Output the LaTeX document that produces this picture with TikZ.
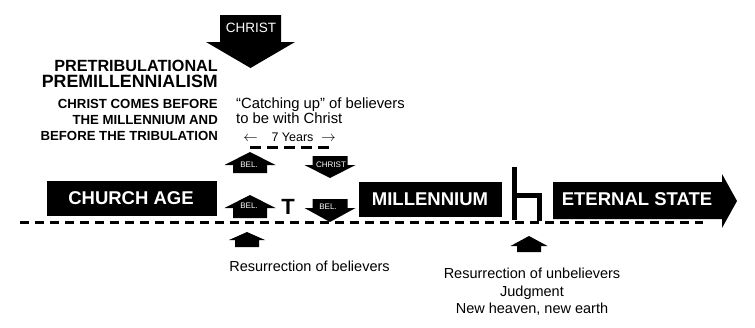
\documentclass[tikz,border=0pt]{standalone}
\usepackage{fontspec}
\setmainfont{Liberation Sans}
\newcommand\blkarrow[6]{\fill[black] (#1,#2) -- ({#1+(#3)},{#2+(#4)}) -- ({#1+(#5)},{#2+(#4)}) -- ({#1+(#5)},{#2+(#4)+(#6)}) -- ({#1-(#5)},{#2+(#4)+(#6)}) -- ({#1-(#5)},{#2+(#4)}) -- ({#1-(#3)},{#2+(#4)}) -- cycle;}
\begin{document}
\begin{tikzpicture}[x=1pt,y=-1pt,
  lbl/.style={inner sep=0pt, anchor=base, font=\fontsize{14.5}{17}\selectfont},
  lleft/.style={inner sep=0pt, anchor=base west, font=\fontsize{14.8}{17}\selectfont},
  headline/.style={inner sep=0pt, anchor=base east, font=\bfseries\fontsize{13.2}{15}\selectfont},
  band/.style={inner sep=0pt, text=white, anchor=base, font=\bfseries\fontsize{18.5}{20}\selectfont},
  tinylbl/.style={inner sep=0pt, text=white, anchor=base, font=\fontsize{8}{9}\selectfont},
  thinarrow/.style={inner sep=0pt, anchor=base, font=\fontsize{15}{17}\selectfont},
  dashline/.style={line width=3pt},
]
\useasboundingbox (0,0) rectangle (755,327);

% big CHRIST arrow
\blkarrow{250.5}{68}{44.5}{-26}{30.5}{-27}
\node[inner sep=0pt, anchor=base, text=white, font=\fontsize{13.5}{15}\selectfont] (christbig) at (251,32) {CHRIST};

% title
\node[inner sep=0pt, anchor=base east, font=\bfseries\fontsize{16.2}{18}\selectfont] (t1) at (218,71) {PRETRIBULATIONAL};
\node[inner sep=0pt, anchor=base east, font=\bfseries\fontsize{17.8}{20}\selectfont] (t2) at (218,87) {PREMILLENNIALISM};
\node[headline] (s1) at (218,108) {CHRIST COMES BEFORE};
\node[headline] (s2) at (218,124) {THE MILLENNIUM AND};
\node[headline] (s3) at (218,140) {BEFORE THE TRIBULATION};

% catching up
\node[lleft] (c1) at (236,108) {“Catching up” of believers};
\node[lleft] (c2) at (236,123) {to be with Christ};
\node[inner sep=0pt, anchor=base, font=\fontsize{12.5}{14}\selectfont] (yrs) at (292.5,141) {7 Years};
\node[thinarrow] (la) at (250.5,141) {$\leftarrow$};
\node[thinarrow] (ra) at (328.5,141) {$\rightarrow$};
\draw[dashline, dash pattern=on 11pt off 6pt] (250,147) -- (330,147);

% small arrows
\blkarrow{250}{152}{25.5}{13}{17}{8}
\node[tinylbl] (bel1) at (249,167) {BEL.};
\blkarrow{330}{178}{25.5}{-13}{17.5}{-9}
\node[tinylbl] (chr1) at (331,167) {CHRIST};
\blkarrow{250}{195}{25.5}{13}{17}{10}
\node[tinylbl] (bel2) at (249,208) {BEL.};
\blkarrow{330}{222}{25.5}{-14}{17.5}{-9}
\node[tinylbl] (bel3) at (328,209) {BEL.};
\node[inner sep=0pt, anchor=base, font=\bfseries\fontsize{22}{24}\selectfont] (T) at (288,214) {T};

% bands
\fill (47,181) rectangle (217,216);
\node[band] (church) at (131,204) {CHURCH AGE};
\fill (359,182) rectangle (502,217);
\node[band] (mill) at (430,205) {MILLENNIUM};
\fill (553,182) -- (722,182) -- (722,174) -- (737,201) -- (722,228) -- (722,219) -- (553,219) -- cycle;
\node[band] (eternal) at (637,205) {ETERNAL STATE};

% judgment seat
\fill (512,167) rectangle (517,220);
\fill (512,193) rectangle (542,198);
\fill (537,193) rectangle (542,221);

% main dashed timeline
\draw[dashline, dash pattern=on 9pt off 6pt] (20,222) -- (703,222);

% resurrection arrows
\blkarrow{247}{232}{18}{8}{12}{7}
\node[lbl] (resb) at (309.5,271) {Resurrection of believers};
\blkarrow{529}{236}{18.5}{10}{12}{6}
\node[lbl] (resu) at (532,278) {Resurrection of unbelievers};
\node[lbl] (judg) at (532,296) {Judgment};
\node[lbl] (newh) at (532,313) {New heaven, new earth};
\end{tikzpicture}
\end{document}
